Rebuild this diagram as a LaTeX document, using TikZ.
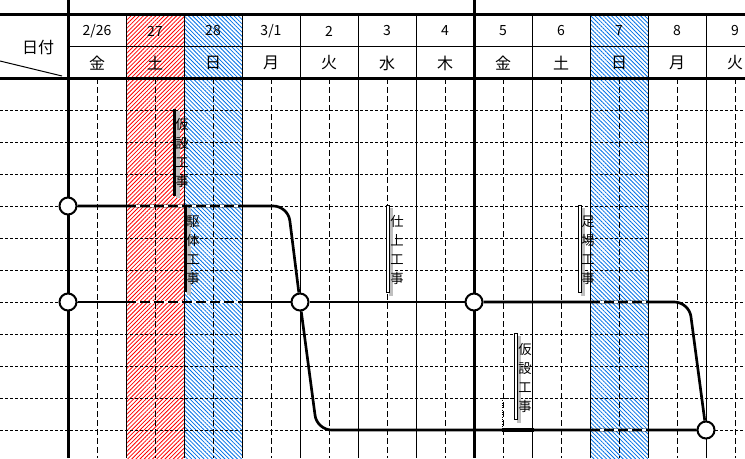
\documentclass[tikz,border=0pt]{standalone}
\usepackage{fontspec}
\setmainfont{Noto Sans CJK JP}
\usetikzlibrary{patterns,patterns.meta}
\definecolor{hatchblue}{RGB}{0,112,230}

\begin{document}
\begin{tikzpicture}[x=0.75pt,y=0.75pt,yscale=-1,xscale=1,
  thickrule/.style={line width=2.25pt},
  thinrule/.style={line width=0.75pt},
  griddash/.style={line width=0.75pt,dash pattern=on 2.25pt off 1.5pt},
  coldash/.style={line width=0.75pt,dash pattern=on 4.5pt off 2.25pt},
  redday/.style={pattern={Lines[angle=45,distance=2.2pt,line width=0.6pt]},pattern color=red},
  blueday/.style={pattern={Lines[angle=-45,distance=2.2pt,line width=0.6pt]},pattern color=hatchblue},
  event/.style={circle,draw,fill=white,line width=1.5pt,inner sep=0pt,minimum size=12.75pt},
  activity/.style={line width=2pt,rounded corners=11pt},
  holiday/.style={line width=2pt,dash pattern=on 7.5pt off 3pt},
  workname/.style={font=\fontsize{10}{14.25}\selectfont,align=center,inner sep=0pt},
  daynum/.style={font=\fontsize{10.5}{12}\selectfont},
  dayname/.style={font=\fontsize{12}{14}\selectfont},
  barshadow/.style={fill=black!25},
  hollowbar/.style={draw=black,fill=white,line width=0.6pt}]
\useasboundingbox (0,0) rectangle (745,458);

%Holiday columns
\fill[redday] (126,14) rectangle (184,458);
\fill[blueday] (184,14) rectangle (242,458);
\fill[blueday] (590,14) rectangle (648,458);

%Grid
\foreach \y in {110,142,...,430} \draw[griddash] (0,\y) -- (745,\y);
\foreach \x in {97,155,...,735} \draw[coldash] (\x,78) -- (\x,458);
\foreach \x in {126,184,...,706} \draw[thinrule] (\x,14) -- (\x,458);
\draw[thinrule] (68,46) -- (745,46);
\draw[thickrule] (0,14) -- (745,14) (0,78) -- (745,78);
\draw[thickrule] (68,0) -- (68,458) (474,0) -- (474,458);
\draw[thinrule] (0,61) -- (62,76);
\node[dayname] (hd) at (38,47) {日付};

%Dates
\foreach \d/\w [count=\i from 0] in {{2/26}/金,27/土,28/日,{3/1}/月,2/火,3/水,4/木,5/金,6/土,7/日,8/月,9/火}
  {\node[daynum] (d\i) at (97+58*\i,31) {\d};
   \node[dayname] (w\i) at (97+58*\i,63) {\w};}

%Events
\node[event] (e1) at (68,206) {};
\node[event] (e2) at (68,302) {};
\node[event] (e3) at (300,302) {};
\node[event] (e4) at (474,302) {};
\node[event] (e5) at (706,430) {};

%Activities
\draw[activity] (e1) -- (288,206) -- (e3);
\draw[activity] (e2) -- (e3);
\draw[activity] (e3) -- (e4);
\draw[activity] (e4) -- (689,302) -- (e5);
\draw[activity] (e3) -- (317,430) -- (e5);
\foreach \a/\b/\y in {126/242/206,126/242/302,590/648/302,590/648/430}
  {\draw[line width=2pt,white] (\a,\y) -- (\b,\y);
   \draw[holiday] (\a,\y) -- (\b,\y);}

%Selected shape
\draw[thinrule,densely dotted] (502,398) rectangle (532,430);
\draw[line width=2.5pt] (502,430) -- (532,430);
\fill (530,428) rectangle (534,432);

%Work names
\fill[barshadow] (176,111) rectangle (180,198);
\fill (173,109) rectangle (176,196);
\node[workname] (k1) at (182,153) {仮\\設\\工\\事};
\fill[barshadow] (187,208) rectangle (191,295);
\fill (184,206) rectangle (187,292);
\node[workname] (k2) at (193,250) {駆\\体\\工\\事};
\fill[barshadow] (389,208) rectangle (393,296);
\draw[hollowbar] (386,205) rectangle (389,292);
\node[workname] (k3) at (397,250) {仕\\上\\工\\事};
\fill[barshadow] (581,208) rectangle (585,296);
\draw[hollowbar] (578,205) rectangle (581,292);
\node[workname] (k4) at (588,250) {足\\場\\工\\事};
\fill[barshadow] (517,336) rectangle (521,423);
\draw[hollowbar] (514,333) rectangle (517,419);
\node[workname] (k5) at (525,378) {仮\\設\\工\\事};
\end{tikzpicture}
\end{document}
